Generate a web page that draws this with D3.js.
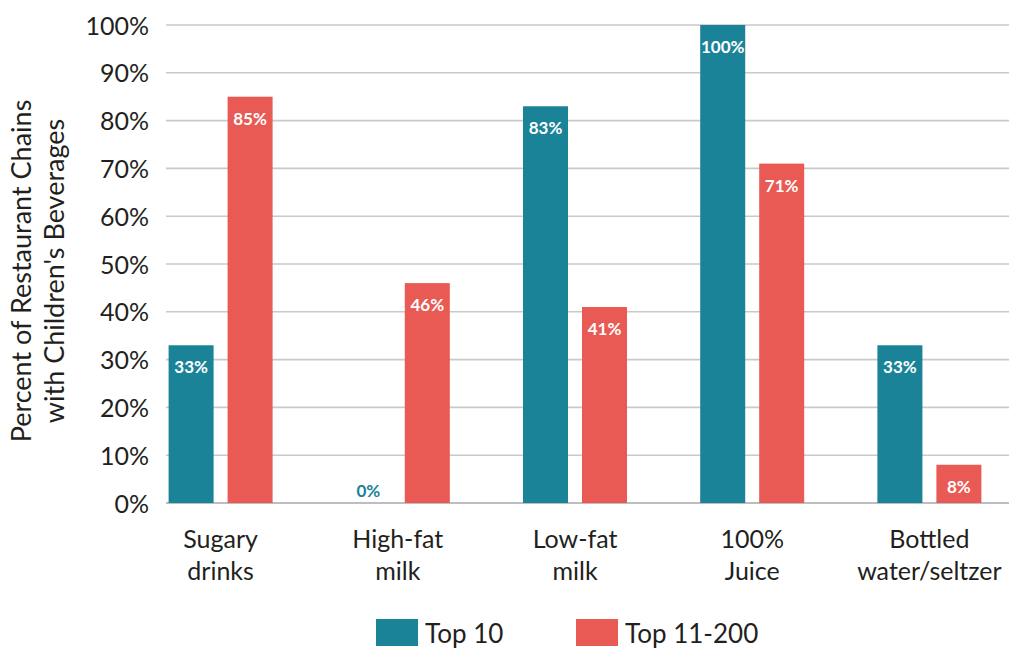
<!DOCTYPE html>
<html>
<head>
<meta charset="utf-8">
<script src="https://cdn.jsdelivr.net/npm/d3@7"></script>
<style>
  body { margin: 0; background: #fff; }
  text { font-family: Lato, "Open Sans", sans-serif; }
</style>
</head>
<body>
<script>
// chart data
var categories = [['Sugary', 'drinks'], ['High-fat', 'milk'], ['Low-fat', 'milk'], ['100%', 'Juice'], ['Bottled', 'water/seltzer']];
var seriesNames = ['Top 10', 'Top 11-200'];
var top10 = [33, 0, 83, 100, 33];
var top11to200 = [85, 46, 41, 71, 8];
var yTicks = [0, 10, 20, 30, 40, 50, 60, 70, 80, 90, 100];
var colors = ['#1b8397', '#e95a54'];

var width = 1017, height = 650;

var svg = d3.select('body')
  .append('svg')
  .attr('width', width)
  .attr('height', height);

var catKeys = categories.map(function (c) { return c.join(' '); });

// outer band scale for the categories
var x0 = d3.scaleBand()
  .domain(catKeys)
  .range([132, 1018]);

// inner band scale for the two series
var x1 = d3.scaleBand()
  .domain(seriesNames)
  .range([-52, 52])
  .paddingInner(0.237);

var y = d3.scaleLinear()
  .domain([0, 100])
  .range([503, 25]);

// gridlines
svg.append('g')
  .selectAll('line')
  .data(yTicks)
  .enter()
  .append('line')
  .attr('x1', 166)
  .attr('x2', 1009)
  .attr('y1', function (d) { return y(d); })
  .attr('y2', function (d) { return y(d); })
  .attr('stroke', function (d) { return d === 0 ? '#a9a9ab' : '#c9c9c9'; })
  .attr('stroke-width', 1.6);

// y axis labels
var yAxis = d3.axisLeft(y)
  .tickValues(yTicks)
  .tickFormat(function (d) { return d + '%'; })
  .tickSize(0)
  .tickPadding(0);

svg.append('g')
  .attr('transform', 'translate(149,0)')
  .call(yAxis)
  .call(function (g) { g.select('.domain').remove(); })
  .selectAll('text')
  .attr('font-size', 25)
  .attr('fill', '#231f20')
  .attr('font-family', 'Lato, sans-serif')
  .attr('dy', '0.36em');

// y title
var yTitle = svg.append('text')
  .attr('transform', 'translate(31,271) rotate(-90)')
  .attr('text-anchor', 'middle')
  .attr('font-size', 27)
  .attr('fill', '#231f20');
yTitle.append('tspan').attr('x', 0).attr('dy', 0).text('Percent of Restaurant Chains');
yTitle.append('tspan').attr('x', 0).attr('dy', 33).text("with Children's Beverages");

// bars
var rows = categories.map(function (c, i) {
  return { key: catKeys[i], values: [top10[i], top11to200[i]] };
});

var groups = svg.selectAll('g.cat')
  .data(rows)
  .enter()
  .append('g')
  .attr('class', 'cat')
  .attr('transform', function (d) { return 'translate(' + (x0(d.key) + x0.bandwidth() / 2) + ',0)'; });

var cells = groups.selectAll('g.bar')
  .data(function (d) {
    return d.values.map(function (v, j) { return { name: seriesNames[j], value: v, idx: j }; });
  })
  .enter()
  .append('g')
  .attr('class', 'bar');

cells.append('rect')
  .attr('x', function (d) { return x1(d.name); })
  .attr('width', x1.bandwidth())
  .attr('y', function (d) { return y(d.value); })
  .attr('height', function (d) { return y(0) - y(d.value); })
  .attr('fill', function (d) { return colors[d.idx]; });

cells.append('text')
  .attr('x', function (d) { return x1(d.name) + x1.bandwidth() / 2; })
  .attr('y', function (d) { return d.value === 0 ? y(0) - 6 : y(d.value) + 28; })
  .attr('text-anchor', 'middle')
  .attr('font-size', 17)
  .attr('font-weight', 'bold')
  .attr('fill', function (d) { return d.value === 0 ? colors[d.idx] : '#fff'; })
  .text(function (d) { return d.value + '%'; });

// category labels
var catLabels = groups.append('text')
  .attr('text-anchor', 'middle')
  .attr('font-size', 25)
  .attr('fill', '#231f20');
catLabels.append('tspan').attr('x', 0).attr('y', 548).text(function (d, i) { return categories[i][0]; });
catLabels.append('tspan').attr('x', 0).attr('y', 580).text(function (d, i) { return categories[i][1]; });

// legend
var legend = svg.selectAll('g.legend')
  .data(seriesNames)
  .enter()
  .append('g')
  .attr('class', 'legend')
  .attr('transform', function (d, i) { return 'translate(' + (376 + i * 200) + ',619)'; });

legend.append('rect')
  .attr('width', 42)
  .attr('height', 27)
  .attr('fill', function (d, i) { return colors[i]; });

legend.append('text')
  .attr('x', 49)
  .attr('y', 24)
  .attr('font-size', 26)
  .attr('fill', '#231f20')
  .text(function (d) { return d; });
</script>
</body>
</html>
